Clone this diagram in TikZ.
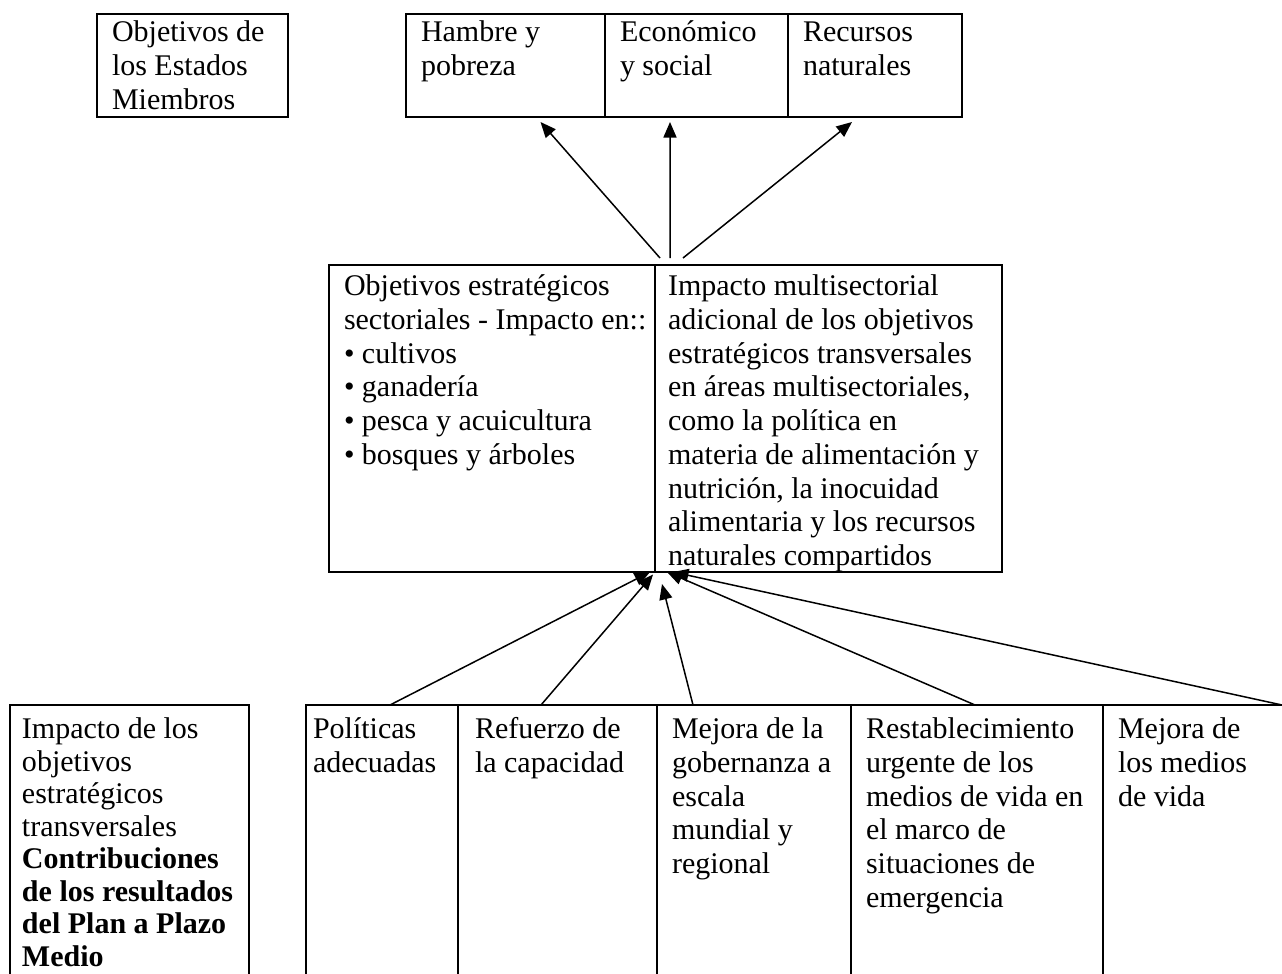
\documentclass[tikz,border=0pt]{standalone}
\usepackage{fontspec}
\setmainfont{Liberation Serif}
\usetikzlibrary{arrows.meta,positioning}
\newcommand{\cellbox}[5][11pt]{\hspace*{#4}\parbox[t][#3][t]{\dimexpr#2-#4\relax}{\raggedright\rule{0pt}{#1}#5}}

\begin{document}
\begin{tikzpicture}[x=0.4pt,y=-0.4pt,
  cell/.style={draw,line width=0.6pt,inner sep=0pt,outer sep=0pt,anchor=north west,font=\fontsize{12}{13.5}\selectfont},
  link/.style={-{Triangle[length=6.2pt,width=5.2pt]},line width=0.6pt}]
\useasboundingbox (0,0) rectangle (1282,974);
\clip (0,0) rectangle (1282,974);
\node[cell] (estados) at (97,14){\cellbox{76.4pt}{41.2pt}{6pt}{Objetivos de\\los Estados\\Miembros}};
\node[cell] (hambre) at (406,14){\cellbox{79.6pt}{41.2pt}{6pt}{Hambre y\\pobreza}};
\node[cell] (econ) at (hambre.north east){\cellbox{73.2pt}{41.2pt}{6pt}{Económico\\y social}};
\node[cell] (recursos) at (econ.north east){\cellbox{69.6pt}{41.2pt}{6pt}{Recursos\\naturales}};
\node[cell] (sector) at (329,265){\cellbox[12.2pt]{130.4pt}{122.8pt}{6pt}{Objetivos estratégicos\\sectoriales - Impacto en::\\\textbullet\ cultivos\\\textbullet\ ganadería\\\textbullet\ pesca y acuicultura\\\textbullet\ bosques y árboles}};
\node[cell] (multi) at (sector.north east){\cellbox[12.2pt]{138.8pt}{122.8pt}{5.2pt}{Impacto multisectorial\\adicional de los objetivos\\estratégicos transversales\\en áreas multisectoriales,\\como la política en\\materia de alimentación y\\nutrición, la inocuidad\\alimentaria y los recursos\\naturales compartidos}};
\node[cell] (transv) at (10,705){\cellbox[13.4pt]{95.6pt}{116pt}{4.8pt}{\fontsize{12}{13}\selectfont Impacto de los\\objetivos\\estratégicos\\transversales\\\textbf{Contribuciones\\de los resultados\\del Plan a Plazo\\Medio}}};
\node[cell] (politicas) at (306,705){\cellbox[13.4pt]{60.8pt}{116pt}{2.8pt}{Políticas\\adecuadas}};
\node[cell] (refuerzo) at (politicas.north east){\cellbox[13.4pt]{79.6pt}{116pt}{6.8pt}{Refuerzo de\\la capacidad}};
\node[cell] (gobernanza) at (refuerzo.north east){\cellbox[13.4pt]{77.6pt}{116pt}{6pt}{Mejora de la\\gobernanza a\\escala\\mundial y\\regional}};
\node[cell] (restab) at (gobernanza.north east){\cellbox[13.4pt]{100.8pt}{116pt}{6pt}{Restablecimiento\\urgente de los\\medios de vida en\\el marco de\\situaciones de\\emergencia}};
\node[cell] (medios) at (restab.north east){\cellbox[13.4pt]{74.8pt}{116pt}{6pt}{Mejora de\\los medios\\de vida}};
% flechas hacia arriba
\draw[link] ([xshift=2pt,yshift=2.8pt]sector.north east) -- ([xshift=14pt,yshift=-2pt]hambre.south);
\draw[link] ([xshift=6pt,yshift=2.8pt]sector.north east) -- ([xshift=-10.6pt,yshift=-2pt]econ.south);
\draw[link] ([xshift=11.2pt,yshift=2.8pt]sector.north east) -- ([xshift=-9.2pt,yshift=-2pt]recursos.south);
% contribuciones
\draw[link] ([xshift=3.2pt]politicas.north) -- ([xshift=-2pt]sector.south east);
\draw[link] ([xshift=-6.6pt]refuerzo.north) -- ([xshift=-0.8pt,yshift=-1pt]sector.south east);
\draw[link] ([xshift=-24.4pt]gobernanza.north) -- ([xshift=2.8pt,yshift=-4.8pt]sector.south east);
\draw[link] ([xshift=-0.8pt]restab.north) -- ([xshift=4.8pt]sector.south east);
\draw[link] ([xshift=-3.2pt]medios.north east) -- ([xshift=7.2pt]sector.south east);
\end{tikzpicture}
\end{document}
